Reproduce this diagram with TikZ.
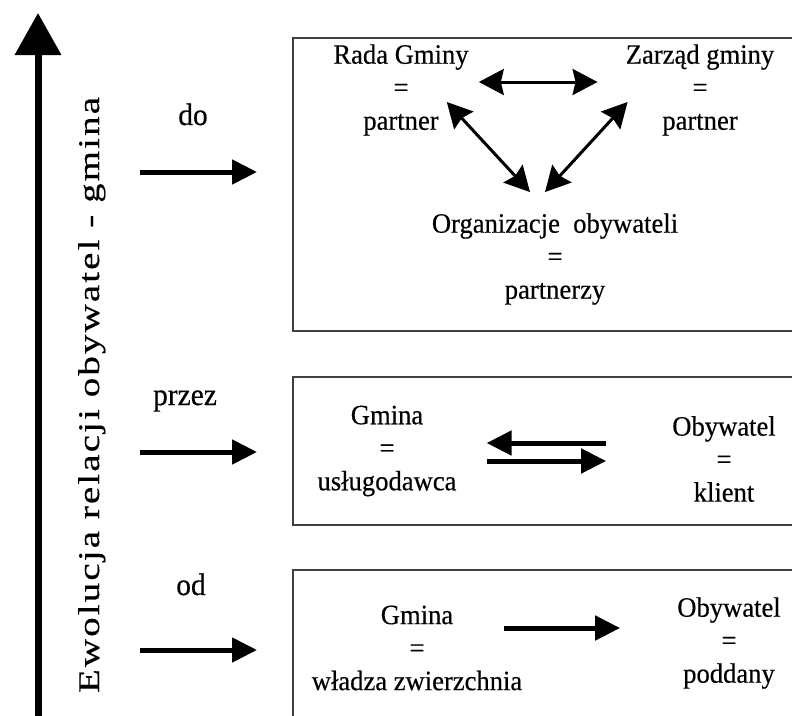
\documentclass[tikz,border=0pt]{standalone}
\usepackage{fontspec}
\setmainfont{Liberation Serif}
\newfontfamily\bodyfont{Liberation Serif}[FakeStretch=0.95, FakeBold=0.4]
\newfontfamily\spacedfont{Liberation Serif}[FakeStretch=1.3, LetterSpace=7, FakeBold=0.4]
\usetikzlibrary{arrows.meta,calc}

\begin{document}
\begin{tikzpicture}[x=1pt, y=-1pt,
    txt/.style={align=center, inner sep=0pt, font=\bodyfont\fontsize{28}{33}\selectfont},
    lbl/.style={anchor=base, inner sep=0pt, font=\bodyfont\fontsize{31}{36}\selectfont},
    panel/.style={draw=black!75, line width=1.6pt},
    big/.style={draw, line width=7pt, -{Triangle[length=42pt,width=45pt]}},
    line/.style={draw, line width=5pt, -{Triangle[length=25pt,width=24pt]}},
    dual/.style={draw, line width=3pt, {Stealth[length=25pt,width=26pt,inset=3pt]}-{Stealth[length=25pt,width=26pt,inset=3pt]}}
  ]
    \useasboundingbox (0,0) rectangle (792,715);
    \clip (0,0) rectangle (792,715);

    % side axis
    \coordinate (evo-a) at (38,720);
    \coordinate (evo-b) at (38,13);
    \path [big] (evo-a) -- (evo-b);
    \node [lbl, rotate=90, font=\spacedfont\fontsize{30}{36}\selectfont] (ewolucja) at (99,395) {Ewolucja relacji obywatel - gmina};

    % stages
    \node [lbl] (do) at (193,125) {do};
    \node [lbl] (przez) at (185,405) {przez};
    \node [lbl] (od) at (191,595) {od};
    \coordinate (do-a) at (140,172);
    \coordinate (do-b) at (257,172);
    \coordinate (przez-a) at (140,452);
    \coordinate (przez-b) at (257,452);
    \coordinate (od-a) at (140,650);
    \coordinate (od-b) at (257,650);
    \path [line] (do-a) -- (do-b);
    \path [line] (przez-a) -- (przez-b);
    \path [line] (od-a) -- (od-b);

    % panels
    \draw [panel] (800,38) -| (293,331) -- (800,331);
    \draw [panel] (800,377) -| (293,525) -- (800,525);
    \draw [panel] (800,570) -| (293,720);

    % do: partnerstwo
    \node [txt] (rada) at (401,90) {Rada Gminy\\=\\partner};
    \node [txt] (zarzad) at (700,90) {Zarząd gminy\\=\\partner};
    \node [txt] (org) at (555,259) {Organizacje\ \ obywateli\\=\\partnerzy};
    \path [dual] ($(rada.east)+(10,-8)$) -- ($(rada.east -| zarzad.west)+(-28,-8)$);
    \path [dual] ($(rada.east)+(-22,12)$) -- ($(org.north)+(-25,-21)$);
    \path [dual] ($(zarzad.west)+(2,12)$) -- ($(org.north)+(-10,-21)$);

    % przez: usługi
    \node [txt] (gmina2) at (387,451) {Gmina\\=\\usługodawca};
    \node [txt] (obyw2) at (724,459) {Obywatel\\=\\klient};
    \path [line] ($(gmina2.east -| obyw2.west)+(-66,-8)$) -- ($(gmina2.east)+(30,-8)$);
    \path [line] ($(gmina2.east)+(30,10)$) -- ($(gmina2.east -| obyw2.west)+(-66,10)$);

    % od: władza
    \node [txt] (gmina3) at (417,648) {Gmina\\=\\władza zwierzchnia};
    \node [txt] (obyw3) at (729,643) {Obywatel\\=\\poddany};
    \path [line] ($(gmina3.east)+(-18,-20)$) -- ($(gmina3.east -| obyw3.west)+(-57,-20)$);
  \end{tikzpicture}
\end{document}
